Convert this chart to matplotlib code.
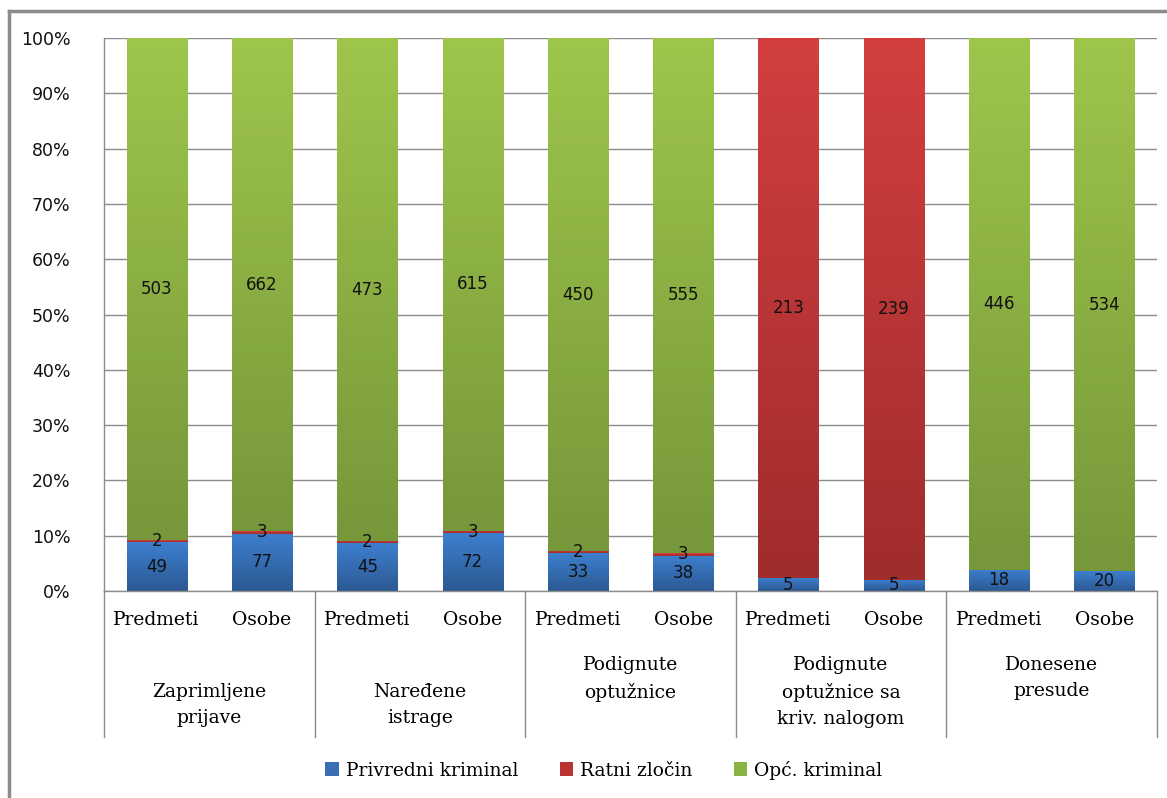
"""100% stacked bars: predmeti / osobe by crime type, with gradient fills."""
import matplotlib
matplotlib.use("Agg")
import matplotlib.pyplot as plt
import numpy as np
from matplotlib.colors import LinearSegmentedColormap
from matplotlib.patches import Patch
from matplotlib.ticker import PercentFormatter

W, H = 1167, 798

groups = ["Zaprimljene\nprijave", "Naređene\nistrage", "Podignute\noptužnice",
          "Podignute\noptužnice sa\nkriv. nalogom", "Donesene\npresude"]
subs = ["Predmeti", "Osobe"] * 5
series = ["Privredni kriminal", "Ratni zločin", "Opć. kriminal"]
privredni = [49, 77, 45, 72, 33, 38, 5, 5, 18, 20]
ratni = [2, 3, 2, 3, 2, 3, 213, 239, 0, 0]
opci = [503, 662, 473, 615, 450, 555, 0, 0, 446, 534]

# gradient (top, bottom) per series, flat colour for legend
GRAD = [("#3d7fcf", "#2c5993"), ("#d33f3f", "#a02c2c"), ("#9ec64b", "#76973a")]
FLAT = ["#3a6fb5", "#bb3434", "#8ab345"]
GRID = "#8c8c8c"
SERIF = "DejaVu Serif"
SANS = "DejaVu Sans"

# centre of first line of each group label, in px
group_first = [692, 692, 665, 665, 665]


def px_x(x):
    return x / W


def px_y(y):
    return 1 - y / H


fig = plt.figure(figsize=(W / 100, H / 100), dpi=100)
L, R, T, B = 104, 1157, 38, 591
ax = fig.add_axes([px_x(L), px_y(B), (R - L) / W, (B - T) / H])

data = np.array([privredni, ratni, opci], dtype=float)
tot = data.sum(axis=0)
pct = data / tot * 100
x = np.arange(len(subs))
bw = 0.57

bottom = np.zeros(len(subs))
for k in range(3):
    bars = ax.bar(x, pct[k], bw, bottom=bottom, color="none", zorder=2)
    cmap = LinearSegmentedColormap.from_list("g%d" % k, [GRAD[k][1], GRAD[k][0]])
    for i, r in enumerate(bars):
        if pct[k][i] <= 0:
            continue
        x0, y0, w, h = r.get_x(), r.get_y(), r.get_width(), r.get_height()
        grad = np.linspace(0, 1, 256).reshape(-1, 1)
        ax.imshow(grad, extent=[x0, x0 + w, y0, y0 + h], origin="lower",
                  aspect="auto", cmap=cmap, zorder=2, interpolation="bilinear")
        ax.text(x[i], y0 + h / 2, "%d" % data[k][i], ha="center", va="center",
                fontsize=12, family=SANS, color="#111111", zorder=4)
    bottom += pct[k]

ax.set_xlim(-0.5, len(subs) - 0.5)
ax.set_ylim(0, 100)
ax.set_yticks(np.arange(0, 101, 10))
ax.yaxis.set_major_formatter(PercentFormatter(decimals=0))
ax.tick_params(axis="y", length=0, pad=24, labelsize=12.5, labelcolor="#111111")
for t in ax.get_yticklabels():
    t.set_family(SANS)
ax.set_xticks([])
ax.grid(axis="y", color=GRID, lw=1, zorder=0)
ax.set_axisbelow(True)
for s in ["top", "right"]:
    ax.spines[s].set_visible(False)
for s in ["left", "bottom"]:
    ax.spines[s].set_color(GRID)
    ax.spines[s].set_linewidth(1)

# category table below the axis
tr = ax.get_xaxis_transform()
depth = -(737 - B) / (B - T)
for g in range(6):
    xv = g * 2 - 0.5
    ax.plot([xv, xv], [0, depth], transform=tr, color=GRID, lw=1, clip_on=False)
sub_y = -(620 - B) / (B - T)
for i, s in enumerate(subs):
    ax.text(x[i], sub_y, s, transform=tr, ha="center", va="center",
            fontsize=13.5, family=SERIF)
for g, name in enumerate(groups):
    gy = -(group_first[g] - 9 - B) / (B - T)
    ax.text(g * 2 + 0.5, gy, name, transform=tr, ha="center", va="top",
            fontsize=13.5, family=SERIF, linespacing=1.6)

handles = [Patch(facecolor=FLAT[k], edgecolor="none") for k in range(3)]
fig.legend(handles, series, loc="center", bbox_to_anchor=(px_x(604), px_y(770)),
           ncol=3, frameon=False, prop={"family": SERIF, "size": 13.5},
           handlelength=0.7, handleheight=0.7, handletextpad=0.4, columnspacing=2.2)

# outer chart border (left and top edges visible)
fig.add_artist(plt.Line2D([px_x(9), px_x(9)], [px_y(11), 0], color="#8c8c8c", lw=2.5))
fig.add_artist(plt.Line2D([px_x(9), 1], [px_y(11), px_y(11)], color="#8c8c8c", lw=2.5))

fig.savefig("out.png", dpi=100)
